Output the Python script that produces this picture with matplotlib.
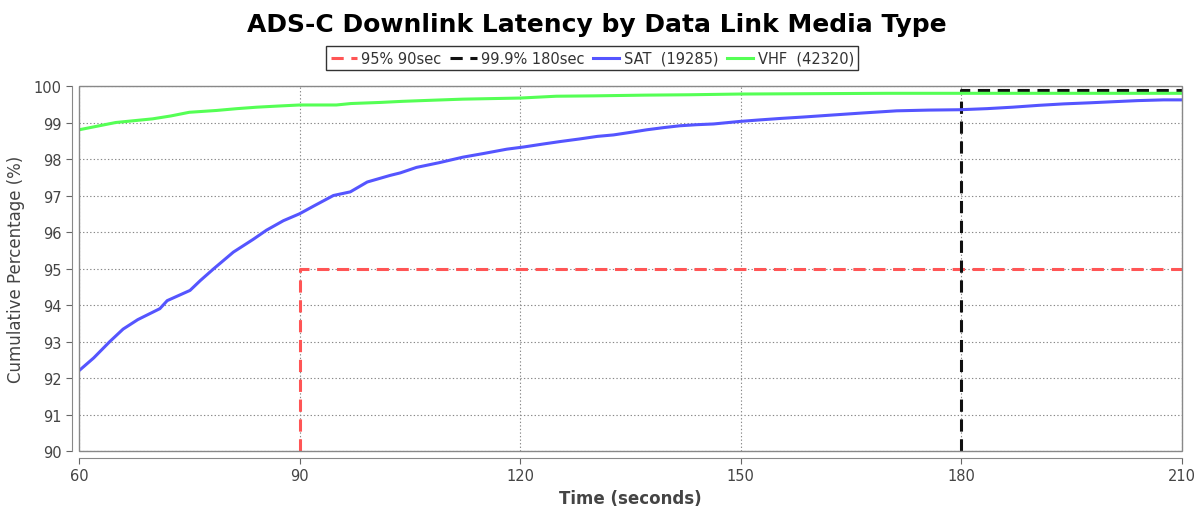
import matplotlib
matplotlib.use("Agg")
import matplotlib.pyplot as plt
from matplotlib.patches import Rectangle

title = "ADS-C Downlink Latency by Data Link Media Type"

sat_x = [60, 62, 64.2, 66, 68, 71, 72, 75.1, 76.5, 78.3, 81, 83.7, 85.5, 87.8, 90, 92, 94.6, 96.9,
         99.2, 102.3, 103.7, 105.9, 109, 112.2, 115, 118.2, 120.5, 123.1, 125.5, 128.1, 130.5, 132.7,
         135, 137.2, 139.5, 141.7, 144, 146.3, 149.9, 152.5, 155.3, 158.5, 162.1, 166.5, 171.2,
         175.5, 179.8, 183.5, 187, 190.5, 193.9, 197.5, 200.7, 204, 207.5, 210]
sat_y = [92.2, 92.55, 93.0, 93.34, 93.6, 93.9, 94.12, 94.4, 94.67, 94.99, 95.45, 95.8, 96.05, 96.31,
         96.5, 96.72, 97.0, 97.1, 97.37, 97.55, 97.62, 97.77, 97.9, 98.05, 98.15, 98.27, 98.33, 98.41,
         98.48, 98.55, 98.62, 98.66, 98.73, 98.8, 98.86, 98.91, 98.94, 98.96, 99.03, 99.07, 99.11,
         99.15, 99.2, 99.26, 99.32, 99.34, 99.35, 99.38, 99.42, 99.47, 99.51, 99.54, 99.57, 99.6,
         99.62, 99.62]

vhf_x = [60, 62.5, 65, 67.5, 70, 72.5, 75, 78.7, 81.5, 84.2, 87, 90, 95, 97, 101, 104, 108,
         112.2, 120, 124.9, 130, 137, 143, 149.9, 160, 170, 180, 195, 210]
vhf_y = [98.8, 98.9, 99.0, 99.05, 99.1, 99.18, 99.28, 99.33, 99.38, 99.42, 99.45, 99.48, 99.48,
         99.52, 99.55, 99.58, 99.61, 99.64, 99.67, 99.72, 99.73, 99.75, 99.76, 99.78, 99.79, 99.8,
         99.8, 99.8, 99.8]

ref95_x = [90, 90, 210]
ref95_y = [90, 95, 95]
ref999_x = [180, 180, 210]
ref999_y = [90, 99.9, 99.9]

labels = ["95% 90sec", "99.9% 180sec", "SAT  (19285)", "VHF  (42320)"]
xticks = [60, 90, 120, 150, 180, 210]
yticks = list(range(90, 101))

fig = plt.figure(figsize=(12.04, 5.10), dpi=100)
ax = fig.add_axes([0.0656, 0.1137, 0.9161, 0.7157])

ax.plot(ref95_x, ref95_y, color="#ff5555", lw=2.2, ls=(0, (4, 2.5)), label=labels[0], zorder=3)
ax.plot(ref999_x, ref999_y, color="#111111", lw=2.2, ls=(0, (4, 2.5)), label=labels[1], zorder=3)
ax.plot(sat_x, sat_y, color="#5555ff", lw=2.2, label=labels[2], zorder=4)
ax.plot(vhf_x, vhf_y, color="#55ff55", lw=2.2, label=labels[3], zorder=4)

ax.set_xlim(60, 210)
ax.set_ylim(90, 100)
ax.set_xticks(xticks)
ax.set_yticks(yticks)
ax.grid(True, color="#888888", ls=(0, (1.2, 2)), lw=0.8)
ax.tick_params(colors="#666666", labelcolor="#444444", labelsize=10.5, length=4)

for s in ["left", "bottom"]:
    ax.spines[s].set_position(("outward", 5))
    ax.spines[s].set_color("#888888")
for s in ["top", "right"]:
    ax.spines[s].set_visible(False)
ax.add_patch(Rectangle((0, 0), 1, 1, transform=ax.transAxes, fill=False,
                       edgecolor="#888888", lw=1.0, zorder=5, clip_on=False))

ax.set_xlabel("Time (seconds)", fontsize=12, color="#444444", fontweight="bold", labelpad=4)
ax.set_ylabel("Cumulative Percentage (%)", fontsize=12, color="#444444", labelpad=6)

fig.suptitle(title, x=0.496, y=0.975, fontsize=18, fontweight="bold")

leg = fig.legend(loc="center", bbox_to_anchor=(0.492, 0.884), ncol=4, fontsize=10.5,
                 frameon=True, fancybox=False, edgecolor="black", handlelength=1.8,
                 handletextpad=0.3, columnspacing=0.6, borderpad=0.3)
leg.get_frame().set_linewidth(1.0)
for t in leg.get_texts():
    t.set_color("#333333")

fig.savefig("out.png", dpi=100)
